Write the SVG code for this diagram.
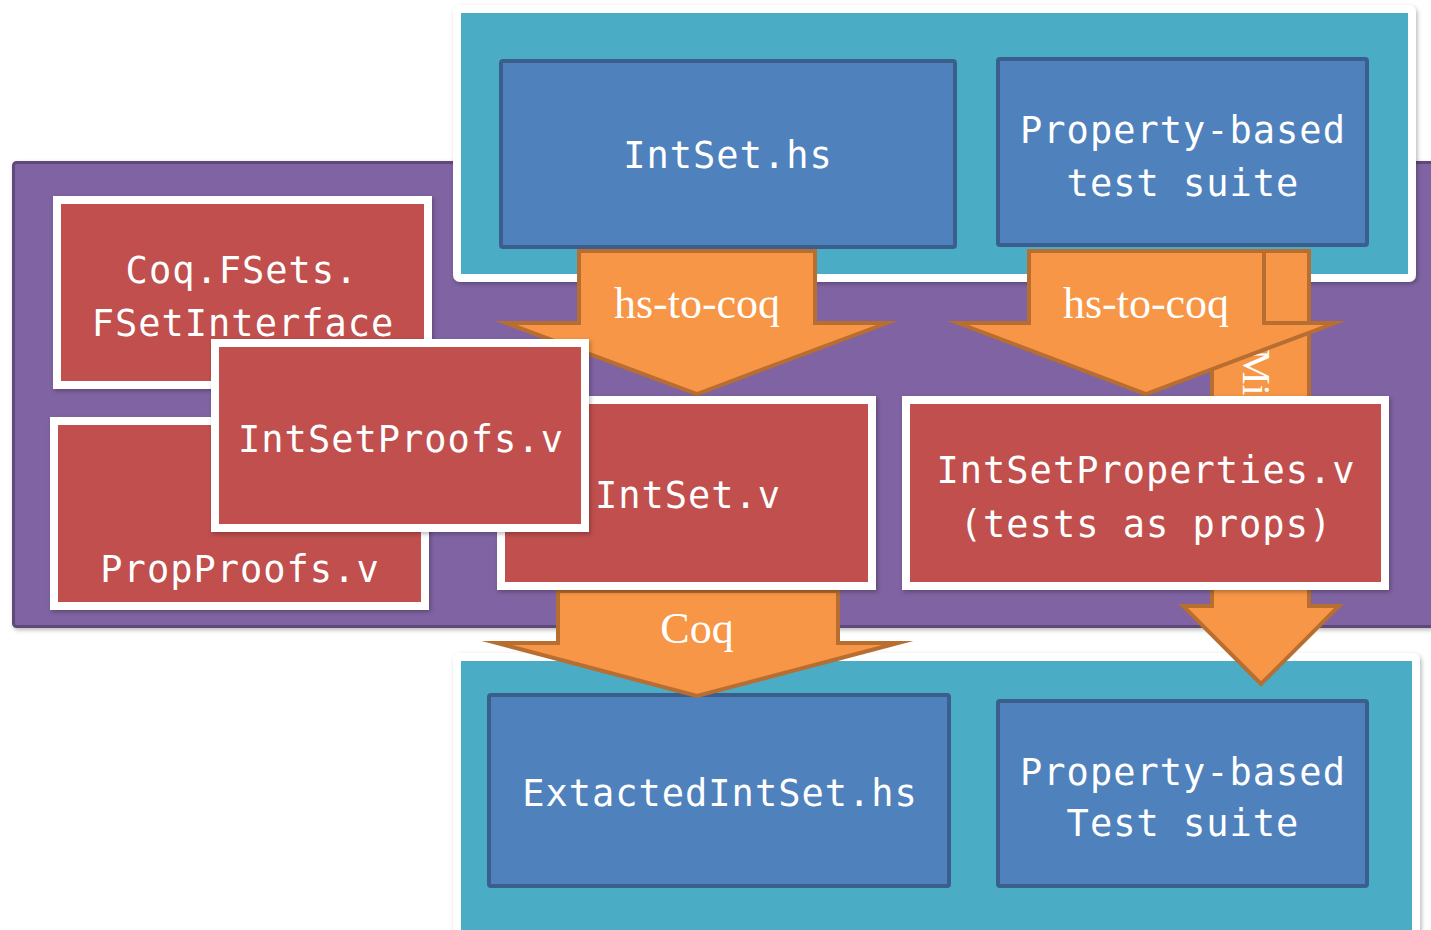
<svg xmlns="http://www.w3.org/2000/svg" width="1431" height="930" viewBox="0 0 1431 930">
<defs>
<filter id="sh" x="-5%" y="-5%" width="110%" height="115%">
<feDropShadow dx="1.5" dy="2" stdDeviation="2" flood-color="#000" flood-opacity="0.28"/>
</filter>
<style>
.frame{fill:#4BACC6;stroke:#FFFFFF;stroke-width:8;filter:url(#sh)}
.blue{fill:#4F81BD;stroke:#3A5F8D;stroke-width:4}
.red{fill:#C0504D;stroke:#FFFFFF;stroke-width:8;filter:url(#sh)}
.arrow{fill:#F79646;stroke:#B86D31;stroke-width:4;stroke-linejoin:miter;stroke-miterlimit:20}
.mono{font-family:"DejaVu Sans Mono","Liberation Mono",monospace;font-size:37px;letter-spacing:1px;fill:#FFFFFF;text-anchor:middle}
.serif{font-family:"Liberation Serif","DejaVu Serif",serif;font-size:44px;fill:#FFFFFF;text-anchor:middle}
</style>
</defs>
<rect width="1431" height="930" fill="#FFFFFF"/>
<g id="band">
<rect x="13.5" y="162.5" width="1440" height="464" rx="3" fill="#8064A2" stroke="#5E4A78" stroke-width="3" filter="url(#sh)"/>
</g>
<g id="top-frame">
<rect class="frame" x="457" y="9" width="955" height="269" rx="3"/>
</g>
<g id="intset-hs">
<rect class="blue" x="501" y="61" width="454" height="186" rx="2"/>
<text class="mono" x="728" y="168">IntSet.hs</text>
</g>
<g id="pbt-top">
<rect class="blue" x="998" y="59" width="369" height="186" rx="2"/>
<text class="mono" x="1183" y="143">Property-based</text>
<text class="mono" x="1183" y="196">test suite</text>
</g>
<g id="bottom-frame">
<rect class="frame" x="457" y="657" width="959" height="290" rx="3"/>
</g>
<g id="extracted">
<rect class="blue" x="489" y="695" width="460" height="191" rx="2"/>
<text class="mono" x="720" y="806">ExtactedIntSet.hs</text>
</g>
<g id="pbt-bottom">
<rect class="blue" x="998" y="701" width="369" height="185" rx="2"/>
<text class="mono" x="1183" y="785">Property-based</text>
<text class="mono" x="1183" y="836">Test suite</text>
</g>
<g id="connectors">
<g id="arrow-mi">
<path class="arrow" d="M1212,251 H1309 V606 H1339 L1261,684 L1183,606 H1212 Z"/>
<text class="serif" transform="translate(1243,349) rotate(90)" style="text-anchor:start;font-size:40px">Mi</text>
</g>
<g id="arrow-hs2coq-left">
<path class="arrow" d="M579,251 H815 V323 H887 L697,394 L506,323 H579 Z"/>
<text class="serif" x="697" y="318">hs-to-coq</text>
</g>
<g id="arrow-hs2coq-right">
<path class="arrow" d="M1029,251 H1264 V323 H1335 L1146,394 L958,323 H1029 Z"/>
<text class="serif" x="1146" y="318">hs-to-coq</text>
</g>
<g id="arrow-coq">
<path class="arrow" d="M558,591 H838 V643 H898 L697,696 L497,643 H558 Z"/>
<text class="serif" x="697" y="643">Coq</text>
</g>
</g>
<g id="fsetinterface">
<rect class="red" x="57" y="200" width="371" height="185"/>
<text class="mono" x="242" y="283">Coq.FSets.</text>
<text class="mono" x="243" y="336">FSetInterface</text>
</g>
<g id="propproofs">
<rect class="red" x="54" y="421" width="371" height="185"/>
<text class="mono" x="240" y="582">PropProofs.v</text>
</g>
<g id="intset-v">
<rect class="red" x="501" y="400" width="371" height="186"/>
<text class="mono" x="688" y="508">IntSet.v</text>
</g>
<g id="intsetproofs">
<rect class="red" x="215" y="343" width="370" height="185"/>
<text class="mono" x="401" y="452">IntSetProofs.v</text>
</g>
<g id="intsetproperties">
<rect class="red" x="906" y="400" width="479" height="186"/>
<text class="mono" x="1146" y="483">IntSetProperties.v</text>
<text class="mono" x="1146" y="537">(tests as props)</text>
</g>
</svg>
